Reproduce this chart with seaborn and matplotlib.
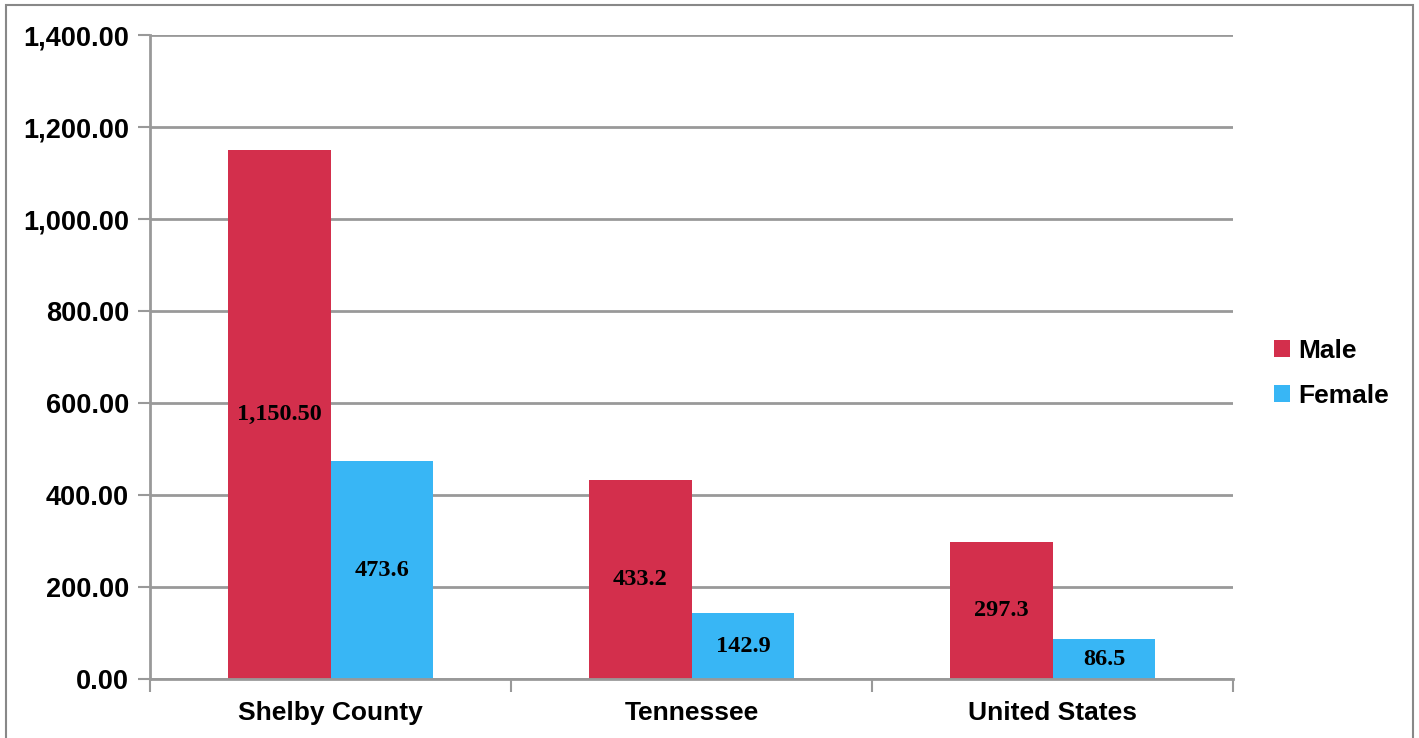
import pandas as pd
import matplotlib
matplotlib.use("Agg")
import matplotlib.pyplot as plt
import seaborn as sns
from matplotlib.patches import Rectangle
from matplotlib.ticker import FuncFormatter, FixedLocator

# data
regions = ["Shelby County", "Tennessee", "United States"]
male = [1150.5, 433.2, 297.3]
female = [473.6, 142.9, 86.5]
male_labels = ["1,150.50", "433.2", "297.3"]
female_labels = ["473.6", "142.9", "86.5"]
series = ["Male", "Female"]
colors = ["#D32F4C", "#38B6F5"]

df = pd.DataFrame({
    "region": regions * 2,
    "sex": ["Male"] * len(regions) + ["Female"] * len(regions),
    "value": male + female,
})

sns.set_style("white")
plt.rcParams["font.family"] = ["Liberation Sans", "DejaVu Sans"]
plt.rcParams["text.color"] = "black"
plt.rcParams["xtick.labelcolor"] = "black"
plt.rcParams["ytick.labelcolor"] = "black"

fig = plt.figure(figsize=(14.19, 7.38), dpi=100)
ax = fig.add_axes([150 / 1419, 1 - 679 / 738, (1233 - 150) / 1419, (679 - 35) / 738])

sns.barplot(data=df, x="region", y="value", hue="sex", hue_order=series,
            palette=colors, width=0.57, saturation=1, linewidth=0,
            ax=ax, legend=True)

# data labels in the middle of each bar
for cont, labs in zip(ax.containers, [male_labels, female_labels]):
    ax.bar_label(cont, labels=labs, label_type="center",
                 fontsize=17.5, fontweight="bold", family="Liberation Serif", color="black")

ax.set_ylim(0, 1400)
ax.set_xlim(-0.5, len(regions) - 0.5)
ax.set_yticks(range(0, 1401, 200))
ax.yaxis.set_major_formatter(FuncFormatter(lambda v, p: f"{v:,.2f}"))
ax.yaxis.grid(True, color="#999999", linewidth=2)
ax.set_axisbelow(True)
ax.set_xlabel("")
ax.set_ylabel("")

ax.xaxis.set_minor_locator(FixedLocator([i - 0.5 for i in range(len(regions) + 1)]))
ax.tick_params(axis="x", which="major", length=0, pad=16, labelsize=19, labelcolor="black")
ax.tick_params(axis="x", which="minor", length=9, width=1.5, color="#999999", bottom=True)
ax.tick_params(axis="y", length=9, width=1.5, color="#999999", left=True,
               labelsize=19.5, pad=6, labelcolor="black")
for lab in ax.get_xticklabels() + ax.get_yticklabels():
    lab.set_fontweight("bold")

for s in ["top", "right"]:
    ax.spines[s].set_visible(False)
for s in ["left", "bottom"]:
    ax.spines[s].set_color("#999999")
    ax.spines[s].set_linewidth(2)

leg = ax.legend(loc="center left", bbox_to_anchor=(1.016, 0.475), frameon=False,
                handlelength=0.6, handleheight=0.6, handletextpad=0.3,
                labelspacing=0.8, prop={"weight": "bold", "size": 19})
for t in leg.get_texts():
    t.set_color("black")

# outer border of the chart
fig.patches.append(Rectangle((6 / 1419, -0.02), (1413 - 6) / 1419, 1.02 - 5 / 738,
                             transform=fig.transFigure, fill=False,
                             edgecolor="#888888", linewidth=1.5))

fig.savefig("out.png", dpi=100)
